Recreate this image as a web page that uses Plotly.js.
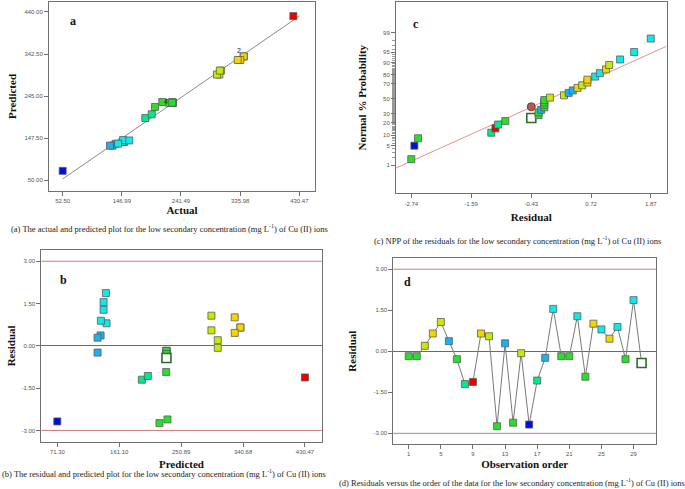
<!DOCTYPE html>
<html>
<head>
<meta charset="utf-8">
<script src="https://cdn.plot.ly/plotly-3.0.1.min.js"></script>
<style>html,body{margin:0;padding:0;background:#fff;}#chart{width:685px;height:489px;}</style>
</head>
<body>
<div id="chart"></div>
<script>
// ---------------- data ----------------
const runOrder = [1,2,3,4,5,6,7,8,9,10,11,12,13,14,15,16,17,18,19,20,21,22,23,24,25,26,27,28,29,30];
const actualValues = [228.3,228.3,305.5,341.7,302.8,137.0,227.4,184.5,421.0,341.7,298.9,200.0,132.0,211.6,303.5,52.5,194.7,128.1,150.4,228.3,228.3,148.0,222.6,336.2,149.0,332.1,141.0,227.4,158.9,226.4];
const predictedValues = [229.6,229.6,304.0,336.8,294.8,134.1,229.6,193.9,430.47,336.8,294.8,219.5,129.7,231.1,304.0,71.3,202.6,129.7,138.4,229.6,229.6,138.4,229.2,328.6,142.7,328.6,134.5,229.6,141.8,229.6];
const residualValues = [-0.18,-0.18,0.20,0.65,1.07,0.37,-0.29,-1.20,-1.12,0.65,0.55,-2.74,0.29,-2.61,-0.07,-2.68,-1.07,-0.24,1.55,-0.18,-0.18,1.28,-0.93,1.01,0.80,0.46,0.89,-0.29,1.87,-0.43];
const colorGroup = ['green','green','yg','yellow','yg','cyanblue','green','spring','red','yellow','yg','green','cyanblue','green','yg','blue','spring','cyanblue','cyan','green','green','cyan','green','yellow','cyan','yellow','cyan','green','cyan','open'];
// normal probability (%) of the ranked residuals
const nppPercent = [1.7,5.0,8.3,11.7,15.0,18.3,21.7,25.0,28.3,31.7,35.0,38.3,41.7,45.0,48.3,51.7,55.0,58.3,61.7,65.0,68.3,71.7,75.0,78.3,81.7,85.0,88.3,91.7,95.0,98.3];
const nppLineX = [-3.034, 2.177];
const nppLinePercent = [0.75, 96.8];
const highlightX = [-0.43];
const highlightPercent = [39];
const limitValues = [-3, 3];
// tick labels
const aXTicks = [52.50,146.99,241.49,335.98,430.47];
const aXText = ['52.50','146.99','241.49','335.98','430.47'];
const aYTicks = [50,147.5,245,342.5,440];
const aYText = ['50.00','147.50','245.00','342.50','440.00'];
const bXTicks = [71.30,161.10,250.89,340.68,430.47];
const bXText = ['71.30','161.10','250.89','340.68','430.47'];
const resTicks = [-3,-1.5,0,1.5,3];
const resText = ['-3.00','-1.50','0.00','1.50','3.00'];
const cXTicks = [-2.74,-1.59,-0.43,0.72,1.87];
const cXText = ['-2.74','-1.59','-0.43','0.72','1.87'];
const cYPercent = [1,5,10,20,30,50,70,80,90,95,99];
const dXTicks = [1,5,9,13,17,21,25,29];

// ---------------- helpers ----------------
const palette = {blue:'#0010d8', cyanblue:'#1ab2f0', cyan:'#10e8ea', spring:'#00ea8c', green:'#28e028', yg:'#c8ea00', yellow:'#f6d400', red:'#ee0000', open:'#ffffff'};
function probit(p){
  const a=[-3.969683028665376e+01,2.209460984245205e+02,-2.759285104469687e+02,1.383577518672690e+02,-3.066479806614716e+01,2.506628277459239e+00];
  const b=[-5.447609879822406e+01,1.615858368580409e+02,-1.556989798598866e+02,6.680131188771972e+01,-1.328068155288572e+01];
  const c=[-7.784894002430293e-03,-3.223964580411365e-01,-2.400758277161838e+00,-2.549732539343734e+00,4.374664141464968e+00,2.938163982698783e+00];
  const d=[7.784695709041462e-03,3.224671290700398e-01,2.445134137142996e+00,3.754408661907416e+00];
  const pl=0.02425, ph=1-pl; let q,r;
  if(p<pl){q=Math.sqrt(-2*Math.log(p));return (((((c[0]*q+c[1])*q+c[2])*q+c[3])*q+c[4])*q+c[5])/((((d[0]*q+d[1])*q+d[2])*q+d[3])*q+1);}
  if(p<=ph){q=p-0.5;r=q*q;return (((((a[0]*r+a[1])*r+a[2])*r+a[3])*r+a[4])*r+a[5])*q/(((((b[0]*r+b[1])*r+b[2])*r+b[3])*r+b[4])*r+1);}
  q=Math.sqrt(-2*Math.log(1-p));return -(((((c[0]*q+c[1])*q+c[2])*q+c[3])*q+c[4])*q+c[5])/((((d[0]*q+d[1])*q+d[2])*q+d[3])*q+1);
}
const z = pct => probit(pct/100);
const fillOf = g => palette[g];
const lineOf = g => g==='open' ? '#2c6b2c' : '#5a5a5a';
const widthOf = g => g==='open' ? 1.6 : 0.8;
const sizeOf = g => g==='open' ? 9 : 7;
function markerFor(groups){
  return {symbol:'square', opacity:1, size:groups.map(sizeOf), color:groups.map(fillOf), line:{color:groups.map(lineOf), width:groups.map(widthOf)}};
}

// ranked residuals for panel c
const rankIdx = residualValues.map((v,i)=>i).sort((i,j)=>residualValues[i]-residualValues[j] || i-j);
const rankedRes = rankIdx.map(i=>residualValues[i]);
const rankedGroup = rankIdx.map(i=>colorGroup[i]);

// panel a draws the open (selected) run underneath the overlapping centre points
const aIdx = runOrder.map((v,i)=>i).sort((i,j)=>(colorGroup[j]==='open')-(colorGroup[i]==='open') || i-j);
const aActual = aIdx.map(i=>actualValues[i]);
const aPred = aIdx.map(i=>predictedValues[i]);
const aGroup = aIdx.map(i=>colorGroup[i]==='open' ? 'green' : colorGroup[i]);

const diagMin = Math.min(...actualValues), diagMax = Math.max(...predictedValues);

const traces = [
  // panel a
  {type:'scatter', mode:'lines', x:[diagMin,diagMax], y:[diagMin,diagMax], xaxis:'x', yaxis:'y', line:{color:'#8a8a8a', width:1}, hoverinfo:'skip'},
  {type:'scatter', mode:'markers', x:aActual, y:aPred, xaxis:'x', yaxis:'y', marker:markerFor(aGroup), name:'Actual vs Predicted'},
  // panel c
  {type:'scatter', mode:'lines', x:nppLineX, y:nppLinePercent.map(z), xaxis:'x2', yaxis:'y2', line:{color:'#e89090', width:1}, hoverinfo:'skip'},
  {type:'scatter', mode:'markers', x:rankedRes, y:nppPercent.map(z), xaxis:'x2', yaxis:'y2', marker:markerFor(rankedGroup), name:'NPP'},
  {type:'scatter', mode:'markers', x:highlightX, y:highlightPercent.map(z), xaxis:'x2', yaxis:'y2', marker:{symbol:'circle', opacity:1, size:8, color:'#b25a4e', line:{color:'#7a3a32', width:1}}, name:'selected'},
  // panel b
  {type:'scatter', mode:'markers', x:predictedValues, y:residualValues, xaxis:'x3', yaxis:'y3', marker:markerFor(colorGroup), name:'Residual vs Predicted'},
  // panel d
  {type:'scatter', mode:'lines+markers', x:runOrder, y:residualValues, xaxis:'x4', yaxis:'y4', line:{color:'#7a7a7a', width:1}, marker:markerFor(colorGroup), name:'Residual vs Run'}
];

const tickFont = {family:'Liberation Sans, Arial, sans-serif', size:6, color:'#555'};
const titleFont = {family:'Liberation Serif, Times New Roman, serif', size:11, color:'#111', weight:'bold'};
function ax(extra){
  return Object.assign({showline:true, mirror:true, linecolor:'#707070', linewidth:1, ticks:'outside', ticklen:4, tickcolor:'#707070', showgrid:false, zeroline:false, tickfont:tickFont, tickmode:'array', fixedrange:true}, extra);
}
const minorPct = []; for(let p=1;p<=99;p++) minorPct.push(p);
const capFont = {family:'Liberation Serif, serif', size:8.5, color:'#222'};
const letterFont = {family:'Liberation Serif, serif', size:12, weight:'bold', color:'#111'};
function paperText(text, x, y, font){ return {text:text, xref:'paper', yref:'paper', x:x, y:y, xanchor:'center', yanchor:'middle', showarrow:false, font:font}; }

const layout = {
  width:685, height:489, margin:{l:0,r:0,t:0,b:0}, paper_bgcolor:'#ffffff', plot_bgcolor:'#ffffff', showlegend:false,
  font:{family:'Liberation Serif, serif', color:'#111'},
  xaxis: ax({domain:[0.0715,0.4599], range:[30.6,455.6], anchor:'y', tickvals:aXTicks, ticktext:aXText, title:{text:'Actual', font:titleFont, standoff:3}}),
  yaxis: ax({domain:[0.6094,0.9959], range:[24.5,463.2], anchor:'x', tickvals:aYTicks, ticktext:aYText, title:{text:'Predicted', font:titleFont, standoff:5}}),
  xaxis2: ax({domain:[0.5781,0.9733], range:[-3.034,2.177], anchor:'y2', tickvals:cXTicks, ticktext:cXText, title:{text:'Residual', font:titleFont, standoff:7}}),
  yaxis2: ax({domain:[0.6047,0.9959], range:[-3.32,3.405], anchor:'x2', tickvals:cYPercent.map(z), ticktext:cYPercent.map(String), title:{text:'Normal % Probability', font:titleFont, standoff:14},
     minor:{tickmode:'array', tickvals:minorPct.map(z), ticks:'outside', ticklen:3, tickcolor:'#9a9a9a'}}),
  xaxis3: ax({domain:[0.0603,0.4696], range:[48.1,454.7], anchor:'y3', tickvals:bXTicks, ticktext:bXText, title:{text:'Predicted', font:titleFont, standoff:6}}),
  yaxis3: ax({domain:[0.0967,0.4888], range:[-3.40,3.40], anchor:'x3', tickvals:resTicks, ticktext:resText, zeroline:true, zerolinecolor:'#6a6a6a', zerolinewidth:1, title:{text:'Residual', font:titleFont, standoff:3}}),
  xaxis4: ax({domain:[0.5742,0.9577], range:[-0.92,31.8], anchor:'y4', tickvals:dXTicks, ticktext:dXTicks.map(String), title:{text:'Observation order', font:titleFont, standoff:4}}),
  yaxis4: ax({domain:[0.0920,0.4718], range:[-3.39,3.40], anchor:'x4', tickvals:resTicks, ticktext:resText, zeroline:true, zerolinecolor:'#6a6a6a', zerolinewidth:1, title:{text:'Residual', font:titleFont, standoff:14}}),
  shapes: [
    {type:'line', xref:'x3 domain', x0:0, x1:1, yref:'y3', y0:limitValues[0], y1:limitValues[0], line:{color:'#cc7a7a', width:1}},
    {type:'line', xref:'x3 domain', x0:0, x1:1, yref:'y3', y0:limitValues[1], y1:limitValues[1], line:{color:'#cc7a7a', width:1}},
    {type:'line', xref:'x4 domain', x0:0, x1:1, yref:'y4', y0:limitValues[0], y1:limitValues[0], line:{color:'#cc7a7a', width:1}},
    {type:'line', xref:'x4 domain', x0:0, x1:1, yref:'y4', y0:limitValues[1], y1:limitValues[1], line:{color:'#cc7a7a', width:1}}
  ],
  annotations: [
    paperText('a', 0.1066, 0.957, letterFont),
    paperText('c', 0.6073, 0.951, letterFont),
    paperText('b', 0.0934, 0.4274, letterFont),
    paperText('d', 0.5956, 0.4233, letterFont),
    {text:'2', xref:'x', yref:'y', x:actualValues[3], y:predictedValues[3], xshift:-5, yshift:6, showarrow:false, font:{family:'Liberation Sans, sans-serif', size:7, color:'#222'}},
    {text:'4', xref:'x', yref:'y', x:actualValues[0], y:predictedValues[0], xshift:-7, yshift:1, showarrow:false, font:{family:'Liberation Sans, sans-serif', size:7, color:'#222'}},
    paperText('(a) The actual and predicted plot for the low secondary concentration (mg L<sup>-1</sup>) of Cu (II) ions', 0.248, 0.5317, capFont),
    paperText('(c) NPP of the residuals for the low secondary concentration (mg L<sup>-1</sup>) of Cu (II) ions', 0.755, 0.509, capFont),
    paperText('(b) The residual and predicted plot for the low secondary concentration (mg L<sup>-1</sup>) of Cu (II) ions', 0.2394, 0.0307, capFont),
    paperText('(d) Residuals versus the order of the data for the low secondary concentration (mg L<sup>-1</sup>) of Cu (II) ions', 0.747, 0.0123, capFont)
  ]
};

Plotly.newPlot('chart', traces, layout, {displayModeBar:false, staticPlot:true});
</script>
</body>
</html>
